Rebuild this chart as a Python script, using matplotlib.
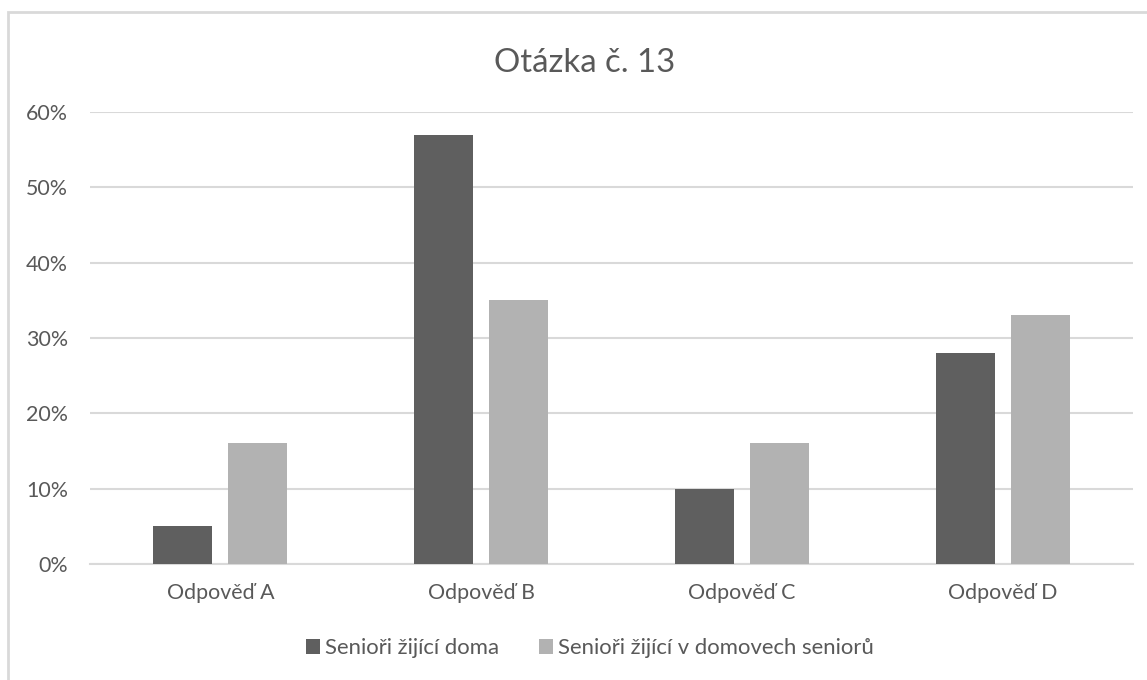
import matplotlib.pyplot as plt
import numpy as np
from matplotlib.patches import Rectangle
from matplotlib.ticker import FuncFormatter

categories = ["Odpověď A", "Odpověď B", "Odpověď C", "Odpověď D"]
doma = [0.05, 0.57, 0.10, 0.28]
domovy = [0.16, 0.35, 0.16, 0.33]
series_names = ["Senioři žijící doma", "Senioři žijící v domovech seniorů"]
title = "Otázka č. 13"

plt.rcParams['font.family'] = ['Lato', 'DejaVu Sans']
text_col = '#595959'

fig = plt.figure(figsize=(11.47, 6.8), dpi=100)
renderer = fig.canvas.get_renderer()


# font size that makes a string a given width in pixels
def size_for(s, target_px, base=10):
    t = fig.text(0, 0, s, fontsize=base)
    w = t.get_window_extent(renderer=renderer).width
    t.remove()
    return base * target_px / w


tick_fs = size_for(categories[0], 108)
leg_fs = size_for(series_names[0], 175)
title_fs = size_for(title, 180)

ax = fig.add_axes([0.0785, 0.1706, 0.9093, 0.6647])

x = np.arange(len(categories))
w = 0.226
ax.bar(x - 0.144, doma, w, color='#5f5f5f', label=series_names[0], zorder=3)
ax.bar(x + 0.144, domovy, w, color='#b2b2b2', label=series_names[1], zorder=3)

ax.set_xlim(-0.5, 3.5)
ax.set_ylim(0, 0.6)
ax.set_yticks(np.arange(0, 0.61, 0.1))
ax.yaxis.set_major_formatter(FuncFormatter(lambda v, p: f"{v * 100:.0f}%"))
ax.set_xticks(x)
ax.set_xticklabels(categories)
ax.grid(axis='y', color='#d9d9d9', linewidth=1.5, zorder=0)
for s in ['top', 'right', 'left']:
    ax.spines[s].set_visible(False)
ax.spines['bottom'].set_color('#d9d9d9')
ax.spines['bottom'].set_linewidth(1.5)
ax.tick_params(length=0, labelsize=tick_fs, colors=text_col)
ax.tick_params(axis='y', pad=16)
ax.tick_params(axis='x', pad=14)

fig.text(0.510, 0.894, title, ha='center', va='baseline', fontsize=title_fs, color=text_col)

px = leg_fs * 100 / 72
leg = fig.legend(loc='center', bbox_to_anchor=(0.5144, 0.047), ncol=2, frameon=False,
                 fontsize=leg_fs, handlelength=14 / px, handleheight=14 / px,
                 handletextpad=5 / px, columnspacing=40 / px, borderpad=0)
for t in leg.get_texts():
    t.set_color(text_col)

fig.patches.append(Rectangle((8 / 1147, -0.1), 1.2, 0.1 + 1 - 12 / 680, transform=fig.transFigure,
                             fill=False, edgecolor='#d9d9d9', linewidth=2))

plt.savefig("out.png", dpi=100)
